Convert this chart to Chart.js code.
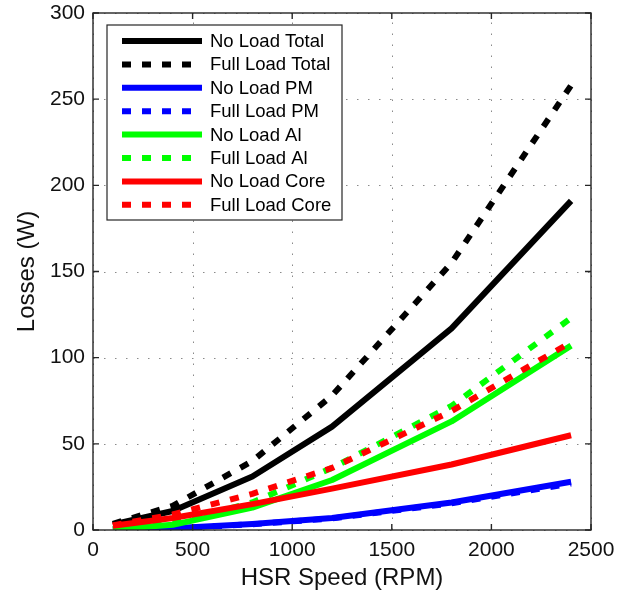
<!DOCTYPE html>
<html lang="en">
<head>
    <meta charset="UTF-8">
    <title>HSR Losses vs Speed</title>
    <script src="https://cdn.jsdelivr.net/npm/chart.js"></script>
    <style>
        body {
            margin: 0;
            background-color: #fff;
        }
    </style>
</head>
<body>
    <canvas id="lossChart" width="629" height="597"></canvas>

    <script>
        // Speed points (RPM) and losses (W)
        var speed = [100, 400, 800, 1200, 1800, 2400];
        var noLoadTotal = [3.3, 11, 31, 60, 117, 191];
        var fullLoadTotal = [3.6, 14, 40, 78, 155, 258];
        var noLoadPM = [0.3, 1, 3.5, 7, 16, 28];
        var fullLoadPM = [0.3, 0.9, 3.3, 6.7, 15.5, 27];
        var noLoadAl = [0.5, 3, 13, 29, 63, 107];
        var fullLoadAl = [0.6, 4, 16, 36, 72, 123];
        var noLoadCore = [2.5, 7, 15, 24, 38, 55];
        var fullLoadCore = [2.7, 9, 21, 36, 69, 109];

        var xTicks = [0, 500, 1000, 1500, 2000, 2500];
        var yTicks = [0, 50, 100, 150, 200, 250, 300];

        var seriesNames = ["No Load Total", "Full Load Total", "No Load PM", "Full Load PM",
                           "No Load Al", "Full Load Al", "No Load Core", "Full Load Core"];
        var seriesValues = [noLoadTotal, fullLoadTotal, noLoadPM, fullLoadPM,
                            noLoadAl, fullLoadAl, noLoadCore, fullLoadCore];
        var seriesColors = ["#000000", "#000000", "#0000ff", "#0000ff",
                            "#00ff00", "#00ff00", "#ff0000", "#ff0000"];

        var fontFamily = "'Liberation Sans', Arial, sans-serif";
        var dotted = [9, 11];

        function points(values) {
            return speed.map(function (s, i) { return { x: s, y: values[i] }; });
        }

        var datasets = seriesNames.map(function (name, i) {
            var isFull = i % 2 === 1;
            return {
                label: name,
                data: points(seriesValues[i]),
                borderColor: seriesColors[i],
                backgroundColor: seriesColors[i],
                borderWidth: 6,
                borderDash: isFull ? dotted : [],
                borderCapStyle: "butt",
                borderJoinStyle: "round",
                pointRadius: 0,
                fill: false,
                tension: 0,
                order: 7 - i // later series on top, like MATLAB
            };
        });

        // dotted grid, box frame with inward ticks, legend box inside the plot
        var matlabAxes = {
            id: "matlabAxes",
            beforeDatasetsDraw: function (chart) {
                var ctx = chart.ctx, a = chart.chartArea;
                var xs = chart.scales.x, ys = chart.scales.y;
                ctx.save();
                ctx.strokeStyle = "#8a8a8a";
                ctx.lineWidth = 1;
                ctx.setLineDash([1.5, 9.5]);
                xTicks.forEach(function (v) {
                    var px = Math.round(xs.getPixelForValue(v)) + 0.5;
                    ctx.beginPath();
                    ctx.moveTo(px, a.bottom);
                    ctx.lineTo(px, a.top);
                    ctx.stroke();
                });
                yTicks.forEach(function (v) {
                    var py = Math.round(ys.getPixelForValue(v)) + 0.5;
                    ctx.beginPath();
                    ctx.moveTo(a.left, py);
                    ctx.lineTo(a.right, py);
                    ctx.stroke();
                });
                ctx.restore();
            },
            afterDatasetsDraw: function (chart) {
                var ctx = chart.ctx, a = chart.chartArea;
                var xs = chart.scales.x, ys = chart.scales.y;
                var tick = 6;
                ctx.save();
                ctx.strokeStyle = "#262626";
                ctx.lineWidth = 1.4;
                ctx.strokeRect(a.left, a.top, a.right - a.left, a.bottom - a.top);
                ctx.beginPath();
                xTicks.forEach(function (v) {
                    var px = xs.getPixelForValue(v);
                    ctx.moveTo(px, a.bottom); ctx.lineTo(px, a.bottom - tick);
                    ctx.moveTo(px, a.top); ctx.lineTo(px, a.top + tick);
                });
                yTicks.forEach(function (v) {
                    var py = ys.getPixelForValue(v);
                    ctx.moveTo(a.left, py); ctx.lineTo(a.left + tick, py);
                    ctx.moveTo(a.right, py); ctx.lineTo(a.right - tick, py);
                });
                ctx.stroke();

                // legend
                var lx = a.left + 14, ly = a.top + 12;
                var lw = 235, lh = 195, rowH = 23.4;
                ctx.fillStyle = "#fff";
                ctx.fillRect(lx, ly, lw, lh);
                ctx.lineWidth = 1.2;
                ctx.strokeStyle = "#262626";
                ctx.strokeRect(lx, ly, lw, lh);
                ctx.font = "18.5px " + fontFamily;
                ctx.textBaseline = "middle";
                ctx.textAlign = "left";
                chart.data.datasets.forEach(function (ds, i) {
                    var cy = ly + 16 + i * rowH;
                    ctx.beginPath();
                    ctx.setLineDash(ds.borderDash);
                    ctx.lineCap = "butt";
                    ctx.lineWidth = 6;
                    ctx.strokeStyle = ds.borderColor;
                    ctx.moveTo(lx + 15, cy);
                    ctx.lineTo(lx + 95, cy);
                    ctx.stroke();
                    ctx.setLineDash([]);
                    ctx.fillStyle = "#000";
                    ctx.fillText(ds.label, lx + 103, cy + 1);
                });
                ctx.restore();
            }
        };

        function plainNumber(value) {
            return String(value);
        }

        var ctx = document.getElementById("lossChart").getContext("2d");
        var lossChart = new Chart(ctx, {
            type: "line",
            data: { datasets: datasets },
            options: {
                responsive: false,
                animation: false,
                layout: { padding: { left: 0, right: 38, top: 13, bottom: 0 } },
                plugins: {
                    legend: { display: false },
                    tooltip: { enabled: false }
                },
                scales: {
                    x: {
                        type: "linear",
                        min: 0,
                        max: 2500,
                        afterBuildTicks: function (scale) {
                            scale.ticks = xTicks.map(function (v) { return { value: v }; });
                        },
                        grid: { display: false },
                        border: { display: false },
                        ticks: {
                            padding: 0,
                            color: "#111",
                            callback: plainNumber,
                            font: { family: fontFamily, size: 21 }
                        },
                        title: {
                            display: true,
                            text: "HSR Speed (RPM)",
                            color: "#111",
                            padding: { top: 0, bottom: 4 },
                            font: { family: fontFamily, size: 24 }
                        },
                        afterFit: function (scale) {
                            scale.height = 67;
                            scale.paddingLeft = 0;
                            scale.paddingRight = 0;
                        }
                    },
                    y: {
                        type: "linear",
                        min: 0,
                        max: 300,
                        afterBuildTicks: function (scale) {
                            scale.ticks = yTicks.map(function (v) { return { value: v }; });
                        },
                        grid: { display: false },
                        border: { display: false },
                        ticks: {
                            padding: 0,
                            color: "#111",
                            callback: plainNumber,
                            font: { family: fontFamily, size: 21 }
                        },
                        title: {
                            display: true,
                            text: "Losses (W)",
                            color: "#111",
                            padding: { top: 13, bottom: 0 },
                            font: { family: fontFamily, size: 24 }
                        },
                        afterFit: function (scale) {
                            scale.width = 93;
                            scale.paddingTop = 0;
                            scale.paddingBottom = 0;
                        }
                    }
                }
            },
            plugins: [matlabAxes]
        });
    </script>
</body>
</html>
